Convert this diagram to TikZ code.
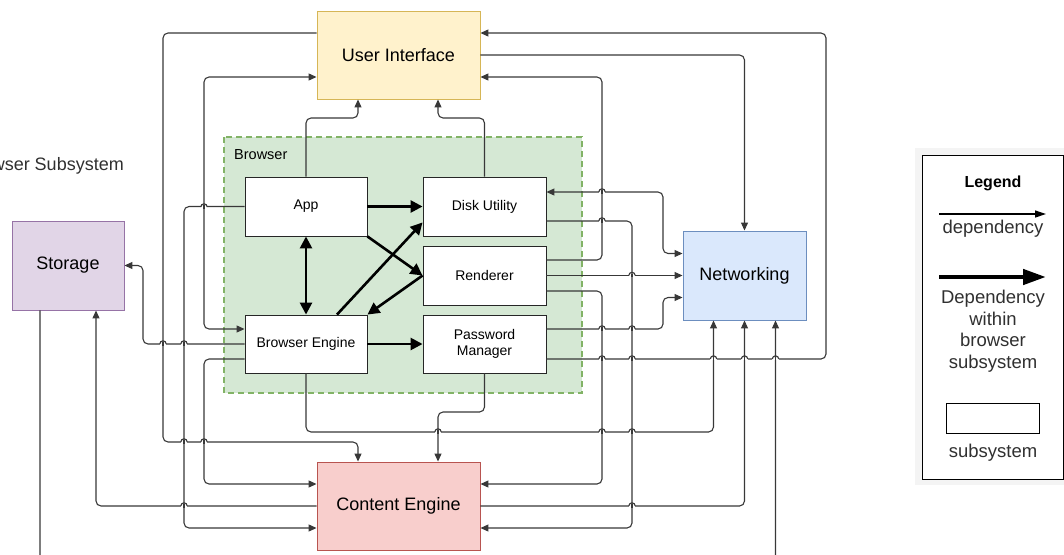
\documentclass[tikz,border=0pt]{standalone}
\usepackage{fontspec}
\setmainfont{Liberation Sans}
\usetikzlibrary{arrows.meta,calc}

\definecolor{linec}{HTML}{383838}
\definecolor{uifill}{HTML}{FFF2CC}
\definecolor{uidraw}{HTML}{D6B656}
\definecolor{stfill}{HTML}{E1D5E7}
\definecolor{stdraw}{HTML}{9673A6}
\definecolor{netfill}{HTML}{DAE8FC}
\definecolor{netdraw}{HTML}{6C8EBF}
\definecolor{cefill}{HTML}{F8CECC}
\definecolor{cedraw}{HTML}{B85450}
\definecolor{grpfill}{HTML}{D5E8D4}
\definecolor{grpdraw}{HTML}{82B366}
\definecolor{legbg}{HTML}{F4F4F4}
\definecolor{legtext}{HTML}{303030}

\tikzset{
  subsys/.style={line width=0.9pt, minimum width=163pt, minimum height=88pt,
    inner sep=0pt, font=\fontsize{18}{21}\selectfont},
  box/.style={draw=black!85, line width=0.9pt, fill=white, minimum width=122pt,
    minimum height=59pt, inner sep=0pt, align=center,
    font=\fontsize{14}{16}\selectfont},
  conn/.style={draw=linec, line width=1.1pt, rounded corners=5pt,
    -{Triangle[length=8pt,width=7pt]}},
  conn2/.style={conn, {Triangle[length=8pt,width=7pt]}-{Triangle[length=8pt,width=7pt]}},
  bdep/.style={draw=black, line width=2.6pt, -{Triangle[length=12pt,width=12pt]}},
  bdep2/.style={bdep, {Triangle[length=12pt,width=12pt]}-{Triangle[length=12pt,width=12pt]}},
  legtxt/.style={text=legtext, inner sep=0pt, align=center,
    font=\fontsize{18.5}{21.5}\selectfont}
}

% line jump: a horizontal connector hopping over a vertical one at (#1,#2)
\newcommand{\linehop}[2]{%
  \fill[white] ({#1-3.2},{#2-1.2}) rectangle ({#1+3.2},{#2+1.2});
  \draw[linec, line width=1.1pt] (#1,{#2-1.7}) -- (#1,{#2+1.7});
  \draw[linec, line width=1.1pt] ({#1-3.2},#2) arc[start angle=180, end angle=360, radius=3.2];
}

\begin{document}
\begin{tikzpicture}[x=1pt, y=-1pt]
\useasboundingbox (0,0) rectangle (1064,554);
\clip (0,0) rectangle (1064,554);

% browser group
\draw[fill=grpfill, draw=grpdraw, line width=1.3pt, dash pattern=on 6pt off 4pt]
  (224,137) rectangle (582,393);
\node[anchor=base west, inner sep=0pt, font=\fontsize{14.5}{17}\selectfont] (browserlabel) at (234,159) {Browser};

\node[anchor=base east, inner sep=0pt, text=legtext, font=\fontsize{18}{21}\selectfont] (subsyslabel) at (124,170) {Browser Subsystem};

% subsystems
\node[subsys, fill=uifill, draw=uidraw] (ui) at (398.5,55) {User Interface};
\node[subsys, fill=stfill, draw=stdraw, minimum width=112pt, minimum height=89pt] (storage) at (68,265.5) {Storage};
\node[subsys, fill=netfill, draw=netdraw, minimum width=123pt, minimum height=89pt] (net) at (744.5,275.5) {Networking};
\node[subsys, fill=cefill, draw=cedraw] (ce) at (398.5,506) {Content Engine};

% browser components
\node[box] (app) at (306,206.5) {App};
\node[box, minimum width=123pt] (du) at (484.5,206.5) {Disk Utility};
\node[box, minimum width=123pt] (ren) at (484.5,275.5) {Renderer};
\node[box, minimum height=58pt] (be) at (306,344) {Browser Engine};
\node[box, minimum width=123pt, minimum height=58pt] (pm) at (484.5,344) {Password\\Manager};

% dependencies, left side
\draw[conn] ($(ui.west)+(0,-22)$) -| (163,442) -| ($(ce.north)+(-40.5,0)$);
\draw[conn2] ($(be.west)+(0,-15)$) -| (204,77) -- ($(ui.west)+(0,22)$);
\draw[conn] (app.west) -| (184,528) -- ($(ce.west)+(0,22)$);
\draw[conn] (be.west) -| (143,265.5) -- (storage.east);
\draw[conn] ($(be.west)+(0,15)$) -| (204,484) -- ($(ce.west)+(0,-22)$);
\draw[conn] (ce.west) -| ($(storage.south)+(28,0)$);
\draw[conn] ($(storage.south)+(-28,0)$) |- (775.5,600) -- ($(net.south)+(31,0)$);

% dependencies, top
\draw[conn] (app.north) |- (358,118) -- ($(ui.south)+(-40.5,0)$);
\draw[conn] (du.north) |- (438,118) -- ($(ui.south)+(39.5,0)$);

% dependencies, right side
\draw[conn] ($(pm.east)+(0,15)$) -| (826,33) -- ($(ui.east)+(0,-22)$);
\draw[conn] (ui.east) -| (net.north);
\draw[conn] ($(ren.east)+(0,-15.5)$) -| (602,77) -- ($(ui.east)+(0,22)$);
\draw[conn2] ($(du.east)+(0,-14.5)$) -| (663,253.5) -- ($(net.west)+(0,-22)$);
\draw[conn] ($(du.east)+(0,14.5)$) -| (632,528) -- ($(ce.east)+(0,22)$);
\draw[conn] (ren.east) -- (net.west);
\draw[conn] ($(ren.east)+(0,15.5)$) -| (602,484) -- ($(ce.east)+(0,-22)$);
\draw[conn] ($(pm.east)+(0,-15)$) -| (663,297.5) -- ($(net.west)+(0,22)$);
\draw[conn] (be.south) |- (713.5,432) -- ($(net.south)+(-31,0)$);
\draw[conn] (ce.east) -| (net.south);
\draw[conn] (pm.south) |- (438,412) -- ($(ce.north)+(39.5,0)$);

% line jumps
\linehop{204}{207}
\linehop{163}{344}
\linehop{184}{344}
\linehop{184}{442}
\linehop{204}{442}
\linehop{184}{506}
\linehop{602}{192}
\linehop{602}{221}
\linehop{632}{275.5}
\linehop{602}{329}
\linehop{632}{329}
\linehop{602}{359}
\linehop{632}{359}
\linehop{713.5}{359}
\linehop{744.5}{359}
\linehop{775.5}{359}
\linehop{438}{432}
\linehop{602}{432}
\linehop{632}{432}
\linehop{632}{506}

% dependencies within the browser subsystem
\draw[bdep] (app.east) -- (du.west);
\draw[bdep2] (app.south) -- (be.north);
\draw[bdep] (app.south east) -- (ren.west);
\draw[bdep] ($(be.north)+(31,0)$) -- ($(du.south west)+(0,-14)$);
\draw[bdep] (ren.west) -- (be.north east);
\draw[bdep] (be.east) -- (pm.west);

% legend
\fill[legbg] (915,148) rectangle (1064,485);
\node[draw=black, line width=0.9pt, fill=white, minimum width=141pt, minimum height=324pt, inner sep=0pt] (legend) at (992.5,317) {};
\node[inner sep=0pt, text=black, font=\fontsize{16}{19}\selectfont\bfseries] (legtitle) at (993,183) {Legend};
\coordinate (thinA) at (939,214);
\coordinate (thinB) at (1046,214);
\draw[draw=black, line width=1.2pt, -{Triangle[length=11pt,width=7pt]}] (thinA) -- (thinB);
\node[legtxt] (legdep) at (993,229) {dependency};
\coordinate (thickA) at (939,277);
\coordinate (thickB) at (1046,277);
\draw[draw=black, line width=4.5pt, -{Triangle[length=23pt,width=15pt]}] (thickA) -- (thickB);
\node[legtxt] (legbdep) at (993,331) {Dependency\\within\\browser\\subsystem};
\node[draw=black, line width=0.9pt, fill=white, minimum width=93pt, minimum height=30pt, inner sep=0pt] (legbox) at (992.5,418) {};
\node[legtxt] (legsub) at (993,453) {subsystem};
\end{tikzpicture}
\end{document}
